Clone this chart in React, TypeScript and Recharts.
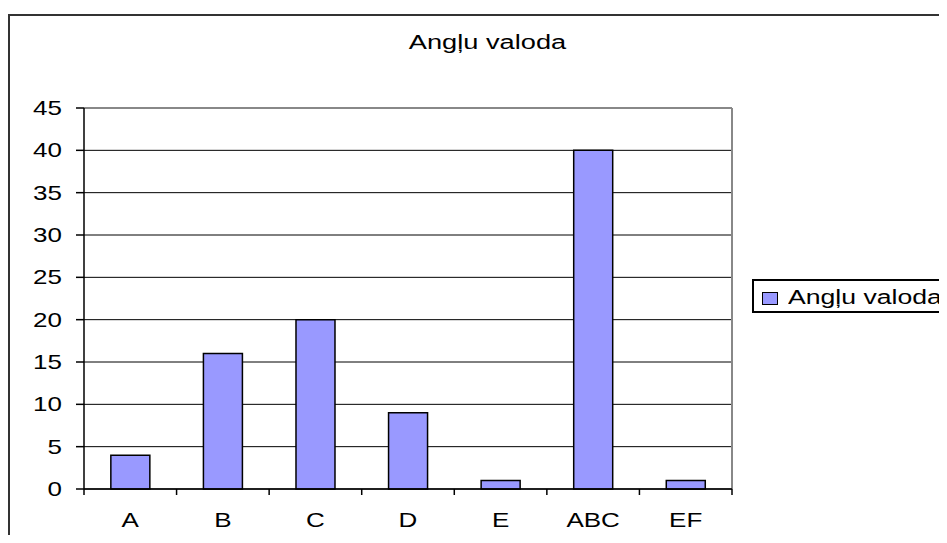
import { BarChart, Bar, XAxis, YAxis, CartesianGrid, Legend } from 'recharts';

const categories = ['A', 'B', 'C', 'D', 'E', 'ABC', 'EF'];
const values = [4, 16, 20, 9, 1, 40, 1];
const yTicks = [0, 5, 10, 15, 20, 25, 30, 35, 40, 45];
const seriesName = 'Angļu valoda';
const title = 'Angļu valoda';

// column separators of the table row that sits above the chart
const tableCols = [81, 198, 342, 486, 677, 843];

const data = categories.map((name, i) => ({ name, value: values[i] }));

const FONT = '"Liberation Sans", Arial, sans-serif';
const STRETCH = 1.3;
const X_TICK_LEN = 6;
const X_LABEL_GAP = 18;

// Excel style: tick marks sit between categories, labels in the middle
function XTick({ x, y, payload, index }: any) {
  const half = payload.offset || 0;
  const axisY = y - X_TICK_LEN - X_LABEL_GAP;
  const last = index === categories.length - 1;
  return (
    <g>
      <line x1={x - half} x2={x - half} y1={axisY} y2={axisY + X_TICK_LEN} stroke="#000" strokeWidth={1.5} />
      {last && (
        <line x1={x + half} x2={x + half} y1={axisY} y2={axisY + X_TICK_LEN} stroke="#000" strokeWidth={1.5} />
      )}
      <text
        transform={`translate(${x},${y}) scale(${STRETCH},1)`}
        textAnchor="middle"
        dy="0.71em"
        fontSize={20}
        fontFamily={FONT}
        fill="#000"
      >
        {payload.value}
      </text>
    </g>
  );
}

function YTick({ x, y, payload }: any) {
  return (
    <text
      transform={`translate(${x},${y}) scale(${STRETCH},1)`}
      textAnchor="end"
      dy="0.355em"
      fontSize={20}
      fontFamily={FONT}
      fill="#000"
    >
      {payload.value}
    </text>
  );
}

function LegendBox() {
  return (
    <div
      style={{
        position: 'relative',
        boxSizing: 'border-box',
        width: 200,
        height: 34,
        border: '2px solid #000',
        background: '#fff',
        fontFamily: FONT,
      }}
    >
      <div
        style={{
          position: 'absolute',
          left: 8,
          top: 11,
          width: 16,
          height: 13,
          boxSizing: 'border-box',
          background: '#9999FF',
          border: '1px solid #000',
        }}
      />
      <div
        style={{
          position: 'absolute',
          left: 34,
          top: 6,
          fontSize: 20,
          lineHeight: '20px',
          whiteSpace: 'nowrap',
          transform: 'scaleX(1.33)',
          transformOrigin: 'left center',
        }}
      >
        {seriesName}
      </div>
    </div>
  );
}

export default function App() {
  return (
    <div
      style={{
        position: 'relative',
        margin: -8,
        width: 947,
        height: 543,
        overflow: 'hidden',
        background: '#fff',
      }}
    >
      {/* table row above */}
      <div style={{ position: 'absolute', left: 0, top: 4, width: 947, height: 2, background: '#000' }} />
      {tableCols.map((x) => (
        <div key={x} style={{ position: 'absolute', left: x, top: 0, width: 2, height: 5, background: '#000' }} />
      ))}

      {/* chart frame */}
      <div
        style={{
          position: 'absolute',
          left: 8,
          top: 14,
          width: 1000,
          height: 600,
          borderLeft: '2px solid #333',
          borderTop: '2px solid #333',
        }}
      />

      <div
        style={{
          position: 'absolute',
          left: 0,
          top: 32,
          width: 975,
          textAlign: 'center',
          fontFamily: FONT,
          fontSize: 20,
          lineHeight: '20px',
          transform: 'scaleX(1.36)',
          transformOrigin: 'center',
        }}
      >
        {title}
      </div>

      <div style={{ position: 'absolute', left: 0, top: 0 }}>
        <BarChart
          width={947}
          height={543}
          data={data}
          margin={{ top: 108, right: 215, bottom: 0, left: 0 }}
          barCategoryGap="29%"
        >
          <CartesianGrid vertical={false} stroke="#000" strokeWidth={1} />
          {/* grey plot-area border on the top and right sides */}
          <CartesianGrid
            stroke="#888"
            strokeWidth={2}
            horizontalCoordinatesGenerator={({ offset }: any) => [offset.top]}
            verticalCoordinatesGenerator={({ offset }: any) => [offset.left + offset.width]}
          />
          <XAxis
            dataKey="name"
            height={54}
            axisLine={{ stroke: '#000', strokeWidth: 1.5 }}
            tickLine={false}
            tickSize={0}
            tickMargin={X_TICK_LEN + X_LABEL_GAP}
            tick={<XTick />}
            interval={0}
          />
          <YAxis
            width={84}
            domain={[0, 45]}
            ticks={yTicks}
            interval={0}
            tickSize={8}
            tickMargin={14}
            axisLine={{ stroke: '#000', strokeWidth: 1.5 }}
            tickLine={{ stroke: '#000', strokeWidth: 1.5 }}
            tick={<YTick />}
          />
          <Bar
            dataKey="value"
            name={seriesName}
            fill="#9999FF"
            stroke="#000"
            strokeWidth={1.5}
            isAnimationActive={false}
          />
          <Legend
            layout="horizontal"
            verticalAlign="middle"
            align="center"
            wrapperStyle={{ left: 752, top: 279, width: 200 }}
            content={<LegendBox />}
          />
        </BarChart>
      </div>
    </div>
  );
}
